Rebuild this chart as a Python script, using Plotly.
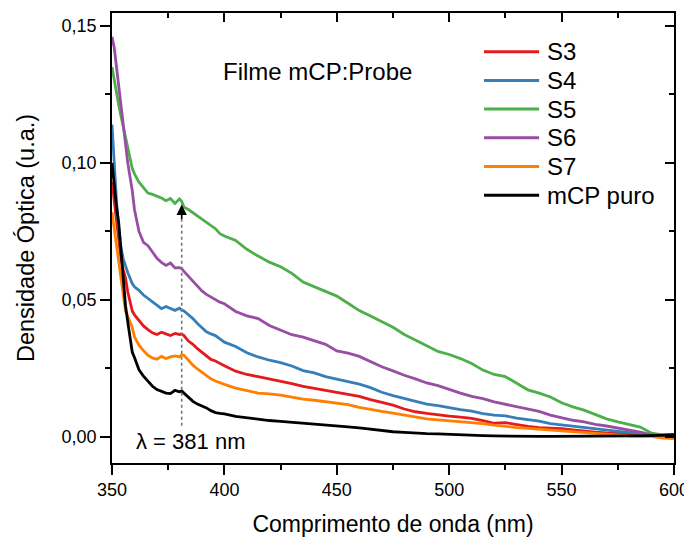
import plotly.graph_objects as go

wavelength = [350, 351, 352, 353, 354, 355, 356, 357, 358, 359, 360, 362, 364, 366, 368, 370,
              372, 374, 376, 378, 380, 381, 382, 384, 386, 388, 390, 392, 394, 396, 398, 400,
              405, 410, 415, 420, 425, 430, 435, 440, 445, 450, 455, 460, 465, 470, 475, 480,
              485, 490, 495, 500, 505, 510, 515, 520, 525, 530, 535, 540, 545, 550, 555, 560,
              565, 570, 575, 580, 585, 590, 595, 600]

s3 = [0.093, 0.086, 0.078, 0.071, 0.065, 0.061, 0.058, 0.053, 0.049, 0.046, 0.0445, 0.0426, 0.0405, 0.0392, 0.0380, 0.0374,
      0.0382, 0.0376, 0.0370, 0.0378, 0.0374, 0.0376, 0.0370, 0.0350, 0.0338, 0.0322, 0.0308, 0.0294, 0.0283, 0.0277, 0.0268, 0.0260,
      0.0240, 0.0228, 0.0220, 0.0212, 0.0203, 0.0195, 0.0185, 0.0178, 0.0170, 0.0163, 0.0156, 0.0148, 0.0136, 0.0125, 0.0116, 0.0102,
      0.0092, 0.0086, 0.0080, 0.0076, 0.0072, 0.0068, 0.0060, 0.0050, 0.0052, 0.0045, 0.0039, 0.0034, 0.0033, 0.0030, 0.0026, 0.0021,
      0.0018, 0.0015, 0.0013, 0.0010, 0.0008, 0.0006, 0.0004, 0.0003]

s4 = [0.114, 0.098, 0.086, 0.076, 0.069, 0.065, 0.062, 0.060, 0.058, 0.056, 0.0548, 0.0535, 0.0518, 0.0506, 0.0494, 0.0480,
      0.0468, 0.0476, 0.0470, 0.0462, 0.0470, 0.0463, 0.0460, 0.0446, 0.0432, 0.0414, 0.0398, 0.0384, 0.0376, 0.0370, 0.0358, 0.0346,
      0.0330, 0.0307, 0.0292, 0.0280, 0.0271, 0.0259, 0.0242, 0.0234, 0.0220, 0.0211, 0.0203, 0.0193, 0.0180, 0.0163, 0.0151, 0.0141,
      0.0130, 0.0120, 0.0114, 0.0106, 0.0100, 0.0094, 0.0085, 0.0080, 0.0077, 0.0069, 0.0064, 0.0058, 0.0049, 0.0044, 0.0040, 0.0034,
      0.0030, 0.0024, 0.0019, 0.0015, 0.0011, 0.0008, 0.0004, 0.0002]

s5 = [0.135, 0.130, 0.125, 0.121, 0.117, 0.113, 0.109, 0.105, 0.101, 0.098, 0.096, 0.093, 0.091, 0.089, 0.0885, 0.0878,
      0.0872, 0.0862, 0.0870, 0.0852, 0.0868, 0.0860, 0.0838, 0.0830, 0.0818, 0.0808, 0.0797, 0.0785, 0.0772, 0.0760, 0.0742, 0.0733,
      0.0717, 0.0685, 0.0660, 0.0638, 0.0621, 0.0597, 0.0565, 0.0548, 0.0530, 0.0514, 0.0488, 0.0461, 0.0441, 0.0421, 0.0400, 0.0374,
      0.0352, 0.0333, 0.0312, 0.0301, 0.0286, 0.0268, 0.0244, 0.0228, 0.0220, 0.0195, 0.0172, 0.0160, 0.0146, 0.0125, 0.0110, 0.0098,
      0.0082, 0.0066, 0.0055, 0.0046, 0.0036, 0.0014, 0.0008, 0.0008]

s6 = [0.146, 0.142, 0.135, 0.128, 0.120, 0.112, 0.105, 0.100, 0.095, 0.090, 0.083, 0.075, 0.071, 0.0698, 0.0675, 0.0652,
      0.0637, 0.0626, 0.0635, 0.0617, 0.0618, 0.0614, 0.0604, 0.0587, 0.0567, 0.0550, 0.0533, 0.0520, 0.0510, 0.0502, 0.0492, 0.0486,
      0.0458, 0.0442, 0.0432, 0.0407, 0.0390, 0.0373, 0.0364, 0.0351, 0.0338, 0.0314, 0.0306, 0.0294, 0.0276, 0.0256, 0.0241, 0.0225,
      0.0212, 0.0197, 0.0187, 0.0173, 0.0160, 0.0148, 0.0140, 0.0128, 0.0119, 0.0110, 0.0100, 0.0093, 0.0080, 0.0071, 0.0061, 0.0055,
      0.0046, 0.0040, 0.0033, 0.0025, 0.0018, 0.0008, 0.0004, 0.0002]

s7 = [0.082, 0.076, 0.070, 0.063, 0.057, 0.051, 0.046, 0.044, 0.042, 0.040, 0.0365, 0.0335, 0.0315, 0.0298, 0.0288, 0.0284,
      0.0294, 0.0286, 0.0292, 0.0296, 0.0292, 0.0300, 0.0298, 0.0278, 0.0262, 0.0248, 0.0235, 0.0224, 0.0212, 0.0204, 0.0197, 0.0192,
      0.0178, 0.0168, 0.0160, 0.0157, 0.0153, 0.0145, 0.0138, 0.0134, 0.0128, 0.0124, 0.0118, 0.0108, 0.0100, 0.0093, 0.0087, 0.0080,
      0.0072, 0.0066, 0.0062, 0.0059, 0.0056, 0.0053, 0.0049, 0.0043, 0.0038, 0.0034, 0.0031, 0.0028, 0.0024, 0.0021, 0.0018, 0.0015,
      0.0012, 0.0009, 0.0006, 0.0004, 0.0003, 0.0002, -0.0004, -0.0006]

mcp_puro = [0.100, 0.091, 0.084, 0.078, 0.068, 0.059, 0.048, 0.042, 0.036, 0.031, 0.0290, 0.0245, 0.0222, 0.0203, 0.0185, 0.0173,
            0.0165, 0.0160, 0.0158, 0.0170, 0.0165, 0.0168, 0.0160, 0.0144, 0.0130, 0.0120, 0.0114, 0.0106, 0.0096, 0.0089, 0.0086, 0.0084,
            0.0075, 0.0070, 0.0064, 0.0060, 0.0057, 0.0054, 0.0051, 0.0048, 0.0045, 0.0041, 0.0037, 0.0033, 0.0028, 0.0022, 0.0019, 0.0017,
            0.0014, 0.0012, 0.0011, 0.0009, 0.0008, 0.0007, 0.0005, 0.0004, 0.0003, 0.0003, 0.0002, 0.0002, 0.0002, 0.0002, 0.0002, 0.0002,
            0.0003, 0.0003, 0.0003, 0.0004, 0.0004, 0.0005, 0.0006, 0.0008]

series_names = ["S3", "S4", "S5", "S6", "S7", "mCP puro"]
series_values = [s3, s4, s5, s6, s7, mcp_puro]
series_colors = ["#E41A1C", "#377EB8", "#4DAF4A", "#984EA3", "#FF7F00", "#000000"]

x_ticks = [350, 400, 450, 500, 550, 600]
y_ticks = [0.00, 0.05, 0.10, 0.15]
y_tick_labels = ["0,00", "0,05", "0,10", "0,15"]
marker_wavelength = 381
x_range = [350, 600]
y_range = [-0.0095, 0.1547]

FONT = "Liberation Sans, Arial, sans-serif"

fig = go.Figure()
for name, vals, col in zip(series_names, series_values, series_colors):
    fig.add_trace(go.Scatter(x=wavelength, y=vals, mode="lines", name=name,
                             line=dict(color=col, width=2.8), showlegend=False))

# invisible trace to host the mirrored (top/right) axes
fig.add_trace(go.Scatter(x=x_range, y=y_range, xaxis="x2", yaxis="y2", mode="lines",
                         line=dict(width=0), showlegend=False, hoverinfo="skip"))

axis_common = dict(showline=True, linecolor="black", linewidth=1.6, showgrid=False, zeroline=False,
                   ticks="outside", ticklen=10, tickwidth=1.5, tickcolor="black",
                   tickfont=dict(family=FONT, size=18, color="black"))
mirror_common = dict(showline=True, linecolor="black", linewidth=1.6, showgrid=False, zeroline=False,
                     ticks="inside", ticklen=9, tickwidth=1.5, tickcolor="black", automargin=False,
                     showticklabels=False)

# the page places the figure 8px from the window's top-left corner
fig.update_layout(
    template="none",
    width=684, height=529,
    margin=dict(l=104, r=18, t=5, b=74, autoexpand=False),
    plot_bgcolor="white", paper_bgcolor="white",
    font=dict(family=FONT, color="black"),
    separators=",.",
    showlegend=False,
    xaxis=dict(range=x_range, tickvals=x_ticks, automargin=False,
               minor=dict(ticks="outside", ticklen=5, tickwidth=1.5, dtick=25, tick0=350, tickcolor="black"),
               title=dict(text="Comprimento de onda (nm)", font=dict(family=FONT, size=23, color="black")),
               **axis_common),
    yaxis=dict(range=y_range, tickvals=y_ticks, ticktext=y_tick_labels, automargin=True,
               minor=dict(ticks="outside", ticklen=5, tickwidth=1.5, dtick=0.025, tick0=0, tickcolor="black"),
               title=dict(text="Densidade Óptica (u.a.)", font=dict(family=FONT, size=23.5, color="black"),
                          standoff=20),
               **axis_common),
    xaxis2=dict(range=x_range, overlaying="x", side="top", tickvals=x_ticks,
                minor=dict(ticks="inside", ticklen=5, tickwidth=1.5, dtick=25, tick0=350, tickcolor="black"),
                **mirror_common),
    yaxis2=dict(range=y_range, overlaying="y", side="right", tickvals=y_ticks,
                minor=dict(ticks="inside", ticklen=5, tickwidth=1.5, dtick=0.025, tick0=0, tickcolor="black"),
                **mirror_common),
)

# legend drawn as key lines + labels (paper coordinates)
leg_x0, leg_x1, leg_tx = 0.662, 0.760, 0.771
leg_y0, leg_dy = 0.914, 0.0638
for i, (name, col) in enumerate(zip(series_names, series_colors)):
    yy = leg_y0 - i * leg_dy
    fig.add_shape(type="line", xref="paper", yref="paper", x0=leg_x0, x1=leg_x1, y0=yy, y1=yy,
                  line=dict(color=col, width=3))
    fig.add_annotation(xref="paper", yref="paper", x=leg_tx, y=yy, text=name, showarrow=False,
                       xanchor="left", yanchor="middle", font=dict(family=FONT, size=24, color="black"))

# dashed marker line at 381 nm and arrow
fig.add_shape(type="line", x0=marker_wavelength, x1=marker_wavelength, y0=0.0041, y1=0.081,
              xref="x", yref="y", line=dict(color="#777777", width=1.6, dash="dot"))
fig.add_annotation(x=marker_wavelength, y=0.0848, ax=marker_wavelength, ay=0.079,
                   xref="x", yref="y", axref="x", ayref="y", text="", showarrow=True,
                   arrowhead=2, arrowsize=1.3, arrowwidth=1.6, arrowcolor="black")

fig.add_annotation(x=385, y=-0.0018, xref="x", yref="y", text="λ = 381 nm",
                   showarrow=False, font=dict(family=FONT, size=22, color="black"))
fig.add_annotation(x=0.3665, y=0.9044, xref="paper", yref="paper", text="Filme mCP:Probe",
                   showarrow=False, font=dict(family=FONT, size=24, color="black"))

fig.write_html("out.html")
